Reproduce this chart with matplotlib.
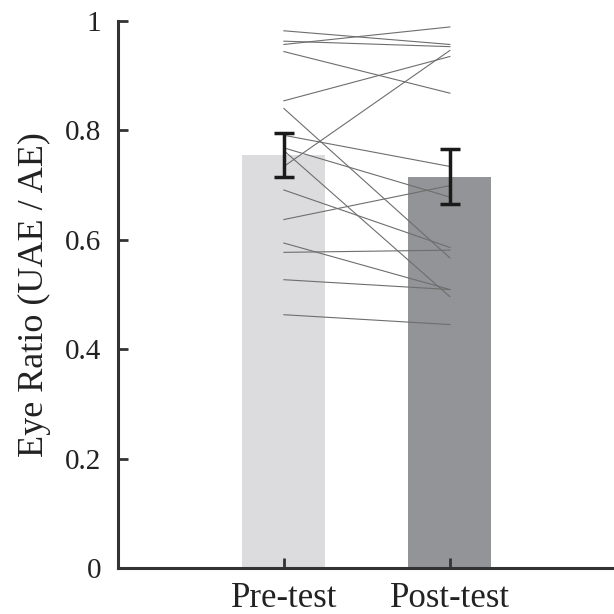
import numpy as np
import matplotlib.pyplot as plt

plt.rcParams['font.family'] = ['Liberation Serif', 'DejaVu Serif']

# Data
conditions = ['Pre-test', 'Post-test']
bar_means = [0.755, 0.715]
bar_errors = [0.041, 0.050]
bar_colors = ['#dcdcde', '#939497']

# individual subjects (pre, post)
pre_vals = [0.982, 0.963, 0.957, 0.944, 0.854, 0.840, 0.791, 0.768,
            0.763, 0.734, 0.691, 0.637, 0.594, 0.577, 0.527, 0.463]
post_vals = [0.957, 0.953, 0.989, 0.868, 0.935, 0.567, 0.734, 0.678,
             0.496, 0.946, 0.586, 0.699, 0.509, 0.581, 0.509, 0.445]

x = np.array([1, 2])
axis_col = '#333333'

fig = plt.figure(figsize=(6.14, 6.14), dpi=100)
ax = fig.add_axes([0.192, 0.0749, 0.811, 0.891])

ax.bar(x, bar_means, width=0.5, color=bar_colors, zorder=1)

for p, q in zip(pre_vals, post_vals):
    ax.plot(x, [p, q], color='#6e6e6e', linewidth=0.8, zorder=2)

ax.errorbar(x, bar_means, yerr=bar_errors, fmt='none', ecolor='#1a1a1a',
            elinewidth=2.5, capsize=7, capthick=2.5, zorder=3)

ax.set_xlim(0, 3)
ax.set_ylim(0, 1)
ax.set_xticks(x)
ax.set_xticklabels(conditions)
ax.set_yticks([0, 0.2, 0.4, 0.6, 0.8, 1])
ax.set_yticklabels(['0', '0.2', '0.4', '0.6', '0.8', '1'])
ax.set_ylabel('Eye Ratio (UAE / AE)', fontsize=26, color='#222222', labelpad=10)

ax.tick_params(direction='in', length=7, width=2, colors=axis_col,
               labelcolor='#222222')
ax.tick_params(axis='y', labelsize=21, pad=12)
ax.tick_params(axis='x', labelsize=25, pad=10)

for side in ['top', 'right']:
    ax.spines[side].set_visible(False)
for side in ['left', 'bottom']:
    ax.spines[side].set_linewidth(2.2)
    ax.spines[side].set_color(axis_col)

fig.savefig('out.png', dpi=100)
